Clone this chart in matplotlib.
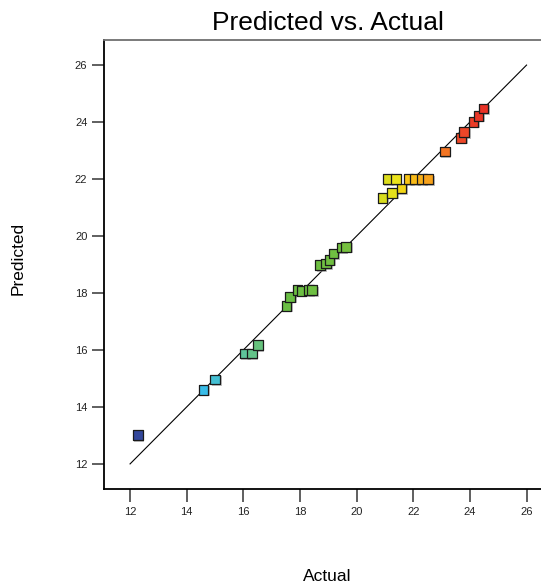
import matplotlib
matplotlib.use("Agg")
import matplotlib.pyplot as plt
from matplotlib.colors import LinearSegmentedColormap, Normalize
from matplotlib.transforms import offset_copy

plt.rcParams['font.family'] = ['Liberation Sans', 'DejaVu Sans']

# actual vs predicted values
actual = [12.28, 14.59, 15.00, 16.05, 16.30, 16.51,
          17.53, 17.65, 17.91, 18.06, 18.31, 18.43,
          18.71, 18.92, 19.04, 19.18, 19.48, 19.63,
          20.92, 21.25, 21.58, 21.09, 21.39, 21.83, 22.06, 22.30, 22.53,
          23.12, 23.69, 23.80, 24.12, 24.30, 24.48]
predicted = [13.01, 14.60, 14.96, 15.87, 15.87, 16.17,
             17.55, 17.86, 18.10, 18.07, 18.10, 18.10,
             18.98, 19.04, 19.16, 19.39, 19.60, 19.62,
             21.34, 21.51, 21.67, 21.99, 21.99, 21.99, 21.99, 21.99, 21.99,
             22.96, 23.45, 23.64, 24.01, 24.22, 24.48]
ref_line = [12, 26]
ticks = [12, 14, 16, 18, 20, 22, 24, 26]

# colour scale similar to Design-Expert
cmap = LinearSegmentedColormap.from_list("de", [
    (0.00, '#33479b'), (0.19, '#38bde9'), (0.31, '#5ec49a'), (0.34, '#66c280'),
    (0.43, '#6abe44'), (0.60, '#72c040'), (0.70, '#d2d91e'), (0.75, '#ece31a'),
    (0.78, '#f8c814'), (0.84, '#f7a51c'), (0.885, '#f47a22'), (0.93, '#ef4b29'),
    (1.00, '#e83226')])
norm = Normalize(vmin=min(actual), vmax=max(actual))
colors = [cmap(norm(v)) for v in actual]

W, H = 541, 586
fig = plt.figure(figsize=(W / 100, H / 100), dpi=100)
ax = fig.add_axes([104 / W, (H - 488.7) / H, (W - 104) / W, (488.7 - 40) / H])

ax.plot(ref_line, ref_line, color='black', linewidth=0.8, zorder=2)

# grey drop shadow behind the squares
shadow = offset_copy(ax.transData, fig=fig, x=1.5, y=-1.5, units='dots')
ax.scatter(actual, predicted, marker='s', s=48, color='#9a9a9a', alpha=0.6,
           linewidths=0, transform=shadow, zorder=3)
ax.scatter(actual, predicted, marker='s', s=48, c=colors,
           edgecolors='#1a1a1a', linewidths=0.9, zorder=4)

ax.set_xlim(11.08, 26.51)
ax.set_ylim(11.13, 26.88)
ax.set_xticks(ticks)
ax.set_yticks(ticks)
ax.tick_params(direction='out', length=9, width=1.2, color='#444444',
               labelsize=8, labelcolor='#222222')
ax.tick_params(axis='x', pad=4)
ax.tick_params(axis='y', pad=3)

ax.spines['right'].set_visible(False)
ax.spines['left'].set_linewidth(1.3)
ax.spines['bottom'].set_linewidth(1.3)
ax.spines['top'].set_linewidth(1.3)
ax.spines['top'].set_color('#707070')

fig.text(327.5 / W, 1 - 23 / H, 'Predicted vs. Actual', ha='center', va='center', fontsize=19)
fig.text(327 / W, 1 - 576.5 / H, 'Actual', ha='center', va='center', fontsize=12.5)
fig.text(18 / W, 1 - 258 / H, 'Predicted', ha='center', va='center', rotation=90, fontsize=12.5)

fig.savefig('out.png', dpi=100)
